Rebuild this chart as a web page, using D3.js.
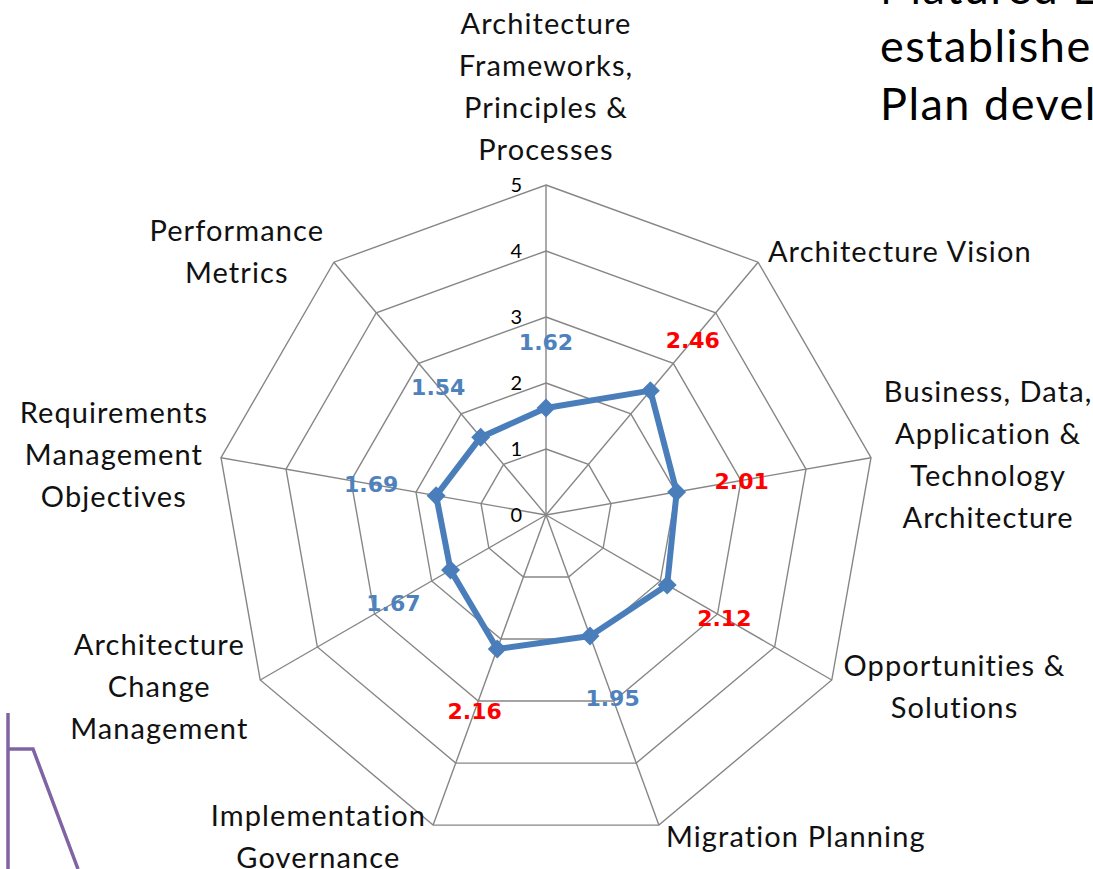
<!DOCTYPE html>
<html>
<head>
<meta charset="utf-8">
<script src="https://cdn.jsdelivr.net/npm/d3@7"></script>
<style>
  html, body { margin: 0; padding: 0; background: #fff; }
  svg { display: block; }
</style>
</head>
<body>
<svg id="chart"></svg>
<script>
var categories = [
  ["Architecture", "Frameworks,", "Principles &", "Processes"],
  ["Architecture Vision"],
  ["Business, Data,", "Application &", "Technology", "Architecture"],
  ["Opportunities &", "Solutions"],
  ["Migration Planning"],
  ["Implementation", "Governance"],
  ["Architecture", "Change", "Management"],
  ["Requirements", "Management", "Objectives"],
  ["Performance", "Metrics"]
];
var scores = [1.62, 2.46, 2.01, 2.12, 1.95, 2.16, 1.67, 1.69, 1.54];
var tickValues = [0, 1, 2, 3, 4, 5];
var slideText = ["Matured EA", "established, Architecture", "Plan developed"];
var connector = [[8, 869], [8, 713], [8, 749], [33, 749], [78, 869]];

var width = 1093, height = 869;
var svg = d3.select('#chart').attr('width', width).attr('height', height);

var cx = 546, cy = 515,
  lineH = 42;

var r = d3.scaleLinear().domain([0, 5]).range([0, 330]);
var angle = d3.scaleLinear().domain([0, categories.length]).range([0, 2 * Math.PI]);

function pt(i, v) {
  var a = angle(i);
  return [cx + Math.sin(a) * r(v), cy - Math.cos(a) * r(v)];
}

var g = svg.append('g');

// grid rings
g.append('g').selectAll('path')
  .data(tickValues.slice(1)).enter()
  .append('path')
  .attr('d', function(t) {
    return d3.line()(categories.map(function(c, i) { return pt(i, t); })) + 'Z';
  })
  .attr('fill', 'none')
  .attr('stroke', '#868686')
  .attr('stroke-width', 1.4);

// spokes
g.append('g').selectAll('line')
  .data(categories).enter()
  .append('line')
  .attr('x1', cx).attr('y1', cy)
  .attr('x2', function(d, i) { return pt(i, 5)[0]; })
  .attr('y2', function(d, i) { return pt(i, 5)[1]; })
  .attr('stroke', '#868686')
  .attr('stroke-width', 1.4);

// tick labels
g.append('g').selectAll('text')
  .data(tickValues).enter()
  .append('text')
  .attr('x', cx - 24)
  .attr('y', function(t) { return cy - r(t) + 7; })
  .attr('text-anchor', 'end')
  .style('font-family', 'Lato, sans-serif')
  .style('font-size', '20px')
  .style('fill', '#000')
  .text(function(t) { return t; });

// series
g.append('path')
  .attr('d', d3.line()(scores.map(function(v, i) { return pt(i, v); })) + 'Z')
  .attr('fill', 'none')
  .attr('stroke', '#4a7ebb')
  .attr('stroke-width', 6)
  .attr('stroke-linejoin', 'round');

g.append('g').selectAll('path')
  .data(scores).enter()
  .append('path')
  .attr('d', d3.symbol().type(d3.symbolDiamond2).size(230))
  .attr('transform', function(v, i) { return 'translate(' + pt(i, v) + ')'; })
  .attr('fill', '#4a7ebb');

// data labels, one unit further out along each spoke
g.append('g').selectAll('text')
  .data(scores).enter()
  .append('text')
  .attr('x', function(v, i) { return pt(i, v + 1)[0]; })
  .attr('y', function(v, i) { return pt(i, v + 1)[1] + 8; })
  .attr('text-anchor', 'middle')
  .style('font-family', '"DejaVu Sans", sans-serif')
  .style('font-weight', 'bold')
  .style('font-size', '22px')
  .style('fill', function(v) { return v >= 2 ? '#ff0000' : '#4f81bd'; })
  .text(function(v) { return v.toFixed(2); });

// category labels
var labels = g.append('g').selectAll('g')
  .data(categories).enter()
  .append('g');

labels.each(function(lines, i) {
  var grp = d3.select(this),
    a = angle(i),
    s = Math.sin(a), c = Math.cos(a),
    p = pt(i, 5),
    n = lines.length;

  var texts = grp.selectAll('text')
    .data(lines).enter()
    .append('text')
    .attr('text-anchor', 'middle')
    .style('font-family', 'Lato, sans-serif')
    .style('font-size', '29px')
    .style('letter-spacing', '1.1px')
    .style('fill', '#111')
    .text(function(d) { return d; });

  var w = 0;
  texts.each(function() { w = Math.max(w, this.getComputedTextLength()); });

  var gap = 4 + 9 * Math.abs(s), mx, my;
  if (s > 0.1) mx = p[0] + gap + w / 2;
  else if (s < -0.1) mx = p[0] - gap - w / 2;
  else mx = p[0];
  if (Math.abs(s) < 0.1) my = p[1] - c * (n * lineH / 2 + 14);
  else my = p[1] - c * 13;

  texts
    .attr('x', mx)
    .attr('y', function(d, k) { return my + (k - (n - 1) / 2) * lineH + 10; });
});

// slide text at right
svg.append('g').selectAll('text')
  .data(slideText).enter()
  .append('text')
  .attr('x', 880)
  .attr('y', function(d, i) { return 4 + i * 58; })
  .style('font-family', 'Lato, sans-serif')
  .style('font-size', '45px')
  .style('letter-spacing', '1.5px')
  .style('fill', '#000')
  .text(function(d) { return d; });

// purple connector from neighbouring diagram
svg.append('path')
  .attr('d', d3.line()(connector))
  .attr('fill', 'none')
  .attr('stroke', '#8064a2')
  .attr('stroke-width', 3.5);
</script>
</body>
</html>
